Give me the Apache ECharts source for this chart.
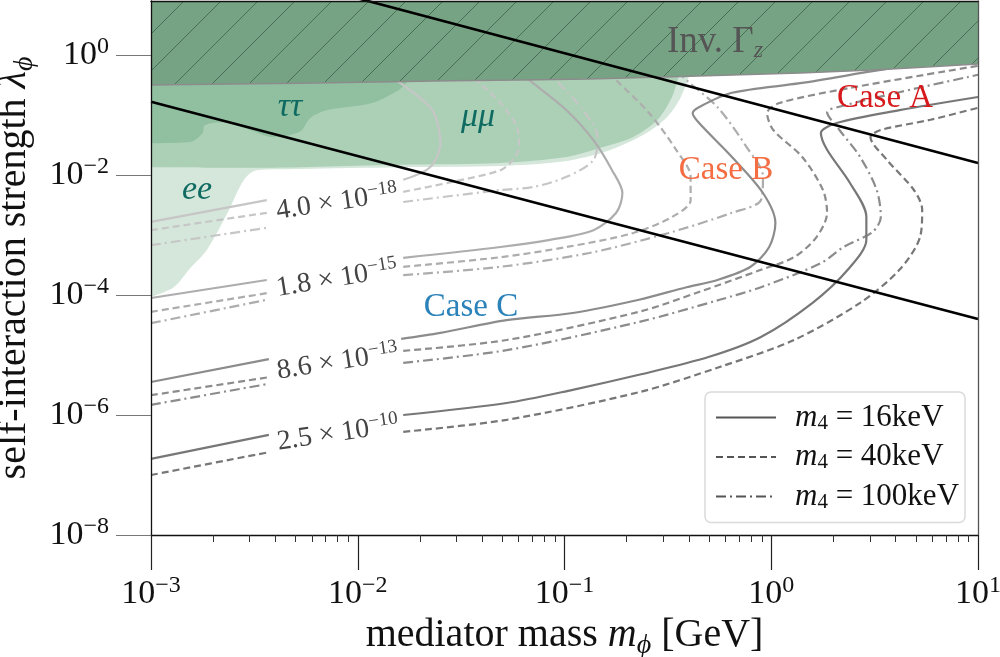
<!DOCTYPE html>
<html>
<head>
<meta charset="utf-8">
<script src="https://cdn.jsdelivr.net/npm/echarts@6/dist/echarts.min.js"></script>
<style>
html,body{margin:0;padding:0;background:#fff;}
#main{width:1000px;height:657px;}
</style>
</head>
<body>
<div id="main"></div>
<script>
// all values are log10: x = log10(m_phi / GeV), y = log10(lambda_phi)
var xTicks = [-3, -2, -1, 0, 1];
var yTicks = [-8, -6, -4, -2, 0];
var m4Labels = ['16keV', '40keV', '100keV'];
var levelMant = ['4.0', '1.8', '8.6', '2.5'];
var levelExp = ['−18', '−15', '−13', '−10'];

// shaded regions: lower edge, filled up to the top
var eeEdge = [[-3.0,-4.03],[-2.89,-3.87],[-2.81,-3.55],[-2.73,-3.25],[-2.63,-2.63],[-2.55,-2.08],[-2.49,-1.92],[-2.28,-1.90],[-1.80,-1.87],[-1.31,-1.85],[-1.02,-1.78],[-0.83,-1.64],[-0.70,-1.47],[-0.59,-1.27],[-0.50,-1.02],[-0.44,-0.72],[-0.40,-0.38]];
var muEdge = [[-3.0,-1.87],[-2.49,-1.88],[-1.80,-1.83],[-1.31,-1.80],[-0.99,-1.70],[-0.83,-1.55],[-0.67,-1.37],[-0.55,-1.08],[-0.48,-0.70],[-0.45,-0.38]];
var tauEdge = [[-3.0,-1.47],[-2.81,-1.45],[-2.75,-1.30],[-2.74,-1.17],[-2.65,-1.12],[-2.52,-1.25],[-2.41,-1.37],[-2.28,-1.28],[-2.23,-1.05],[-2.15,-0.92],[-1.93,-0.80],[-1.80,-0.58],[-1.76,-0.45]];
var gzEdge = [[-3.0,-0.50],[-2.28,-0.47],[-1.55,-0.43],[-0.88,-0.40],[-0.35,-0.35],[0.14,-0.30],[0.49,-0.25],[1.0,-0.15]];

// straight black lines
var lineUpper = [[-3, 1.86], [1, -1.80]];
var lineLower = [[-3, -0.78], [1, -4.40]];

// contours, null = gap for the label
var c1Solid = [[-3.0,-2.78],[-2.44,-2.42],null,[-1.78,-2.08],[-1.65,-1.87],[-1.60,-1.47],[-1.64,-0.92],[-1.78,-0.50],[-1.83,-0.40]];
var c1Dash = [[-3.0,-2.92],[-2.44,-2.63],null,[-1.78,-2.28],[-1.55,-2.12],[-1.31,-1.92],[-1.25,-1.75],[-1.22,-1.53],[-1.23,-1.20],[-1.31,-0.80],[-1.41,-0.47],[-1.46,-0.33]];
var c1DashDot = [[-3.0,-3.17],[-2.44,-2.88],null,[-1.78,-2.45],[-1.31,-2.25],[-1.15,-2.20],[-0.99,-2.03],[-0.86,-1.75],[-0.84,-1.37],[-0.91,-0.92],[-1.04,-0.42],[-1.07,-0.28]];
var c2Solid = [[-3.0,-4.05],[-2.44,-3.75],null,[-1.78,-3.38],[-1.31,-3.20],[-1.07,-3.08],[-0.86,-2.92],[-0.75,-2.63],[-0.72,-2.30],[-0.77,-1.92],[-0.86,-1.42],[-0.99,-0.92],[-1.17,-0.42],[-1.22,-0.28]];
var c2Dash = [[-3.0,-4.28],[-2.44,-3.97],null,[-1.78,-3.53],[-1.31,-3.37],[-0.99,-3.20],[-0.67,-2.97],[-0.48,-2.70],[-0.39,-2.42],[-0.39,-2.03],[-0.46,-1.58],[-0.59,-0.97],[-0.75,-0.42],[-0.79,-0.28]];
var c2DashDot = [[-3.0,-4.47],[-2.44,-4.08],null,[-1.78,-3.67],[-1.31,-3.53],[-0.88,-3.30],[-0.50,-2.97],[-0.19,-2.63],[-0.05,-2.42],[-0.04,-2.03],[-0.12,-1.53],[-0.26,-0.87],[-0.41,-0.42],[-0.45,-0.28]];
var c3Solid = [[-3.0,-5.45],[-2.43,-5.07],null,[-1.79,-4.73],[-1.60,-4.63],[-1.28,-4.42],[-0.96,-4.30],[-0.64,-4.08],[-0.41,-3.87],[-0.26,-3.75],[-0.10,-3.53],[-0.01,-3.20],[0.02,-2.80],[-0.04,-2.30],[-0.19,-1.70],[-0.35,-1.13],[-0.38,-0.97],[-0.35,-0.87],[-0.19,-0.63],[0.14,-0.47],[0.49,-0.27],[0.62,-0.20]];
var c3Dash = [[-3.0,-5.67],[-2.43,-5.37],null,[-1.78,-4.93],[-1.28,-4.75],[-0.64,-4.28],[-0.35,-3.95],[-0.05,-3.58],[0.11,-3.37],[0.22,-3.03],[0.27,-2.63],[0.25,-2.25],[0.15,-1.70],[0.01,-1.25],[-0.02,-0.97],[0.04,-0.80],[0.38,-0.55],[1.0,-0.18]];
var c3DashDot = [[-3.0,-5.83],[-2.43,-5.48],null,[-1.78,-5.13],[-1.28,-4.92],[-0.64,-4.45],[-0.25,-4.08],[-0.05,-3.87],[0.24,-3.47],[0.35,-3.20],[0.49,-2.95],[0.53,-2.70],[0.51,-2.25],[0.43,-1.70],[0.33,-1.25],[0.27,-0.95],[0.32,-0.87],[0.62,-0.62],[1.0,-0.33]];
var c4Solid = [[-3.0,-6.73],[-2.43,-6.33],null,[-1.78,-6.00],[-1.28,-5.80],[-0.96,-5.58],[-0.64,-5.33],[-0.30,-5.03],[-0.05,-4.70],[0.20,-4.13],[0.37,-3.58],[0.46,-3.08],[0.46,-2.70],[0.38,-2.13],[0.27,-1.58],[0.24,-1.30],[0.32,-1.13],[0.62,-0.92],[1.0,-0.70]];
var c4Dash = [[-3.0,-7.00],[-2.43,-6.62],null,[-1.78,-6.28],[-1.28,-6.08],[-0.64,-5.62],[-0.25,-5.20],[0.11,-4.75],[0.43,-4.13],[0.62,-3.58],[0.72,-3.03],[0.73,-2.58],[0.69,-2.25],[0.56,-1.75],[0.48,-1.37],[0.53,-1.25],[0.77,-1.08],[1.0,-0.88]];

var FONT = "'Liberation Serif', 'DejaVu Serif', serif";
var levelColor = ['#c6c6c6', '#adadad', '#8c8c8c', '#777777'];
var dashStyle = ['solid', [7, 4], [10, 4, 2, 4]];

var contours = [
  {pts: c1Solid, lvl: 0, ls: 0}, {pts: c1Dash, lvl: 0, ls: 1}, {pts: c1DashDot, lvl: 0, ls: 2},
  {pts: c2Solid, lvl: 1, ls: 0}, {pts: c2Dash, lvl: 1, ls: 1}, {pts: c2DashDot, lvl: 1, ls: 2},
  {pts: c3Solid, lvl: 2, ls: 0}, {pts: c3Dash, lvl: 2, ls: 1}, {pts: c3DashDot, lvl: 2, ls: 2},
  {pts: c4Solid, lvl: 3, ls: 0}, {pts: c4Dash, lvl: 3, ls: 1}
];

function splitGap(pts){
  var out = [[]];
  pts.forEach(function(p){
    if(p === null) out.push([]);
    else out[out.length - 1].push(p);
  });
  return out;
}

// hatch pattern for the invisible Z width band
function hatch(){
  var c = document.createElement('canvas');
  var s = 37;
  c.width = s; c.height = s;
  var g = c.getContext('2d');
  g.fillStyle = '#76a383';
  g.fillRect(0, 0, s, s);
  g.strokeStyle = 'rgba(45,75,55,0.6)';
  g.lineWidth = 1;
  g.beginPath();
  g.moveTo(-2, s + 2); g.lineTo(s + 2, -2);
  g.stroke();
  return c;
}

function pow10(v){
  var e = Math.round(v);
  return '{b|10}{s|' + (e < 0 ? '−' + (-e) : e) + '}';
}

var tickRich = {
  b: {fontFamily: FONT, fontSize: 34, lineHeight: 40, color: '#111'},
  s: {fontFamily: FONT, fontSize: 24, lineHeight: 20, verticalAlign: 'top', color: '#111'}
};
var nameRich = {
  n: {fontFamily: FONT, fontSize: 40, lineHeight: 48, color: '#111'},
  i: {fontFamily: FONT, fontSize: 40, lineHeight: 48, fontStyle: 'italic', color: '#111'},
  sub: {fontFamily: FONT, fontSize: 28, lineHeight: 30, fontStyle: 'italic', verticalAlign: 'bottom', color: '#111'}
};

var minorTicks = [];
for(var d = -3; d < 1; d++){
  for(var k = 2; k <= 9; k++) minorTicks.push(d + Math.log10(k));
}

var series = [];
function area(edge, color, z){
  series.push({type: 'line', data: edge, smooth: 0.3, symbol: 'none', silent: true, z: z,
    lineStyle: {width: 0}, areaStyle: {origin: 'end', color: color, opacity: 1}});
}
area(eeEdge, '#d4e7da', 1);
area(muEdge, '#acd0b6', 1);
area(tauEdge, '#90c0a0', 1);

contours.forEach(function(c){
  splitGap(c.pts).forEach(function(seg){
    series.push({type: 'line', data: seg, smooth: 0.3, symbol: 'none', silent: true, z: 2,
      lineStyle: {color: levelColor[c.lvl], width: 2.2, type: dashStyle[c.ls]}});
  });
});

series.push({type: 'line', data: gzEdge, smooth: 0.2, symbol: 'none', silent: true, z: 3,
  lineStyle: {color: '#8c8c8c', width: 1.5},
  areaStyle: {origin: 'end', color: {image: hatch(), repeat: 'repeat'}, opacity: 1}});

[lineUpper, lineLower].forEach(function(l){
  series.push({type: 'line', data: l, symbol: 'none', silent: true, z: 4,
    lineStyle: {color: '#000', width: 2.6}});
});

var legendNames = m4Labels.map(function(m){ return 'm4 = ' + m; });
legendNames.forEach(function(n, i){
  series.push({type: 'line', name: n, data: [], symbol: 'none',
    itemStyle: {color: '#555'}, lineStyle: {color: '#555', width: 2.2, type: dashStyle[i]}});
});

var chart = echarts.init(document.getElementById('main'));
chart.setOption({
  animation: false,
  backgroundColor: '#fff',
  grid: {left: 151, right: 22, top: 1, bottom: 122, outerBoundsMode: 'none', containLabel: false},
  legend: {
    data: legendNames, orient: 'vertical', left: 705, top: 392,
    itemWidth: 60, itemHeight: 14, itemGap: 8, padding: [10, 6, 10, 10],
    borderColor: '#dadada', borderWidth: 1.5, borderRadius: 6, backgroundColor: '#fff',
    itemStyle: {opacity: 0},
    textStyle: {fontFamily: FONT, fontSize: 31, color: '#111', rich: {
      i: {fontFamily: FONT, fontSize: 31, fontStyle: 'italic', lineHeight: 32, padding: [0, 0, 0, 14]},
      sub: {fontFamily: FONT, fontSize: 21, lineHeight: 22, verticalAlign: 'bottom'},
      n: {fontFamily: FONT, fontSize: 31, lineHeight: 32}
    }},
    formatter: function(name){
      return '{i|m}{sub|4}{n| = ' + name.split('= ')[1] + '}';
    }
  },
  xAxis: [
    {type: 'value', min: -3, max: 1, position: 'bottom', z: 10,
      axisLine: {show: true, onZero: false, lineStyle: {color: '#111', width: 1.3}},
      axisTick: {show: true, length: 35, customValues: xTicks, lineStyle: {color: '#222', width: 1.2}},
      axisLabel: {customValues: xTicks, formatter: pow10, margin: 39, rich: tickRich},
      splitLine: {show: false},
      name: '{n|mediator mass }{i|m}{sub|ϕ}{n| [GeV]}', nameLocation: 'middle', nameGap: 74,
      nameTextStyle: {rich: nameRich}},
    {type: 'value', min: -3, max: 1, position: 'bottom', z: 10,
      axisLine: {show: false, onZero: false}, axisLabel: {show: false}, splitLine: {show: false},
      axisTick: {show: true, length: 7, customValues: minorTicks, lineStyle: {color: '#333', width: 1}}},
    {type: 'value', min: -3, max: 1, position: 'top', z: 10,
      axisLine: {show: true, onZero: false, lineStyle: {color: '#111', width: 1.3}},
      axisTick: {show: false}, axisLabel: {show: false}, splitLine: {show: false}}
  ],
  yAxis: [
    {type: 'value', min: -8, max: 0.9, position: 'left', z: 10,
      axisLine: {show: true, onZero: false, lineStyle: {color: '#111', width: 1.3}},
      axisTick: {show: true, length: 35, customValues: yTicks, lineStyle: {color: '#777', width: 1.2}},
      axisLabel: {customValues: yTicks, formatter: pow10, margin: 42, rich: tickRich},
      splitLine: {show: false},
      name: '{n|self-interaction strength }{i|λ}{sub|ϕ}', nameLocation: 'middle', nameGap: 108,
      nameTextStyle: {rich: nameRich}},
    {type: 'value', min: -8, max: 0.9, position: 'right', z: 10,
      axisLine: {show: true, onZero: false, lineStyle: {color: '#555', width: 1.3}},
      axisTick: {show: false}, axisLabel: {show: false}, splitLine: {show: false}}
  ],
  series: series
});

// contour labels sit in the gaps, centred among the gap ends of that level
var graphics = [];
levelMant.forEach(function(mant, lvl){
  var sx = 0, sy = 0, n = 0, rot = 0;
  contours.forEach(function(c){
    if(c.lvl !== lvl) return;
    var i = c.pts.indexOf(null);
    var a = chart.convertToPixel({xAxisIndex: 0, yAxisIndex: 0}, c.pts[i - 1]);
    var b = chart.convertToPixel({xAxisIndex: 0, yAxisIndex: 0}, c.pts[i + 1]);
    sx += a[0] + b[0]; sy += a[1] + b[1]; n += 2;
    if(c.ls === 0) rot = Math.atan2(a[1] - b[1], b[0] - a[0]);
  });
  graphics.push({type: 'text', x: sx / n + 2, y: sy / n, rotation: rot, z: 20, silent: true,
    style: {text: '{n|' + mant + ' × 10}{s|' + levelExp[lvl] + '}', align: 'center', verticalAlign: 'middle',
      rich: {
        n: {fontFamily: FONT, fontSize: 28, lineHeight: 32, fill: '#444'},
        s: {fontFamily: FONT, fontSize: 19, lineHeight: 16, verticalAlign: 'top', fill: '#444'}
      }}});
});

function note(x, y, text, rich){
  graphics.push({type: 'text', x: x, y: y, z: 20, silent: true,
    style: {text: text, align: 'center', verticalAlign: 'middle', rich: rich}});
}
var teal = '#0f6b62';
function plain(size, color, italic){
  return {fontFamily: FONT, fontSize: size, lineHeight: size + 4, fill: color, fontStyle: italic ? 'italic' : 'normal'};
}
note(715, 42, '{n|Inv. Γ}{sub|z}', {n: plain(37, '#555'), sub: {fontFamily: FONT, fontSize: 24, lineHeight: 24, fontStyle: 'italic', verticalAlign: 'bottom', fill: '#555'}});
note(290, 107, '{n|ττ}', {n: plain(34, teal, true)});
note(478, 117, '{n|μμ}', {n: plain(34, teal, true)});
note(197, 190, '{n|ee}', {n: plain(34, teal, true)});
note(885, 98, '{n|Case A}', {n: plain(33, '#d7191c')});
note(726, 170, '{n|Case B}', {n: plain(33, '#f46d43')});
note(471, 307, '{n|Case C}', {n: plain(33, '#2b83ba')});

chart.setOption({graphic: graphics});
</script>
</body>
</html>
